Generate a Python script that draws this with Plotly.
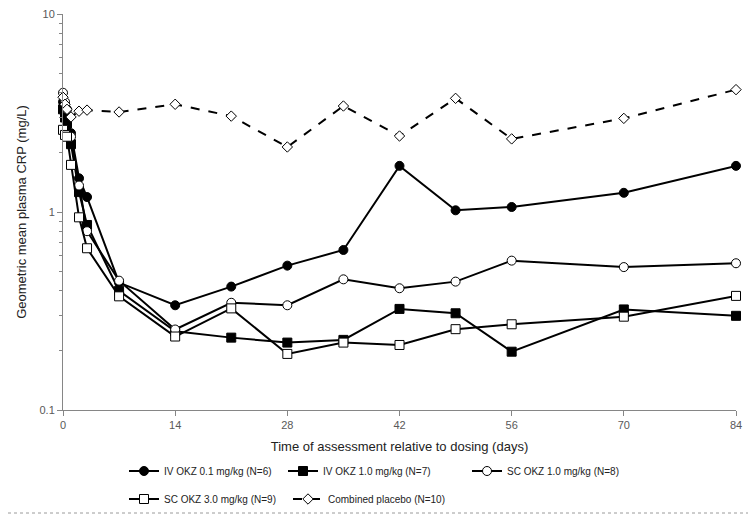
import plotly.graph_objects as go

days = [0, 0.25, 0.5, 1, 2, 3, 7, 14, 21, 28, 35, 42, 49, 56, 70, 84]

iv_01 = [3.6, 3.3, 3.0, 2.5, 1.48, 1.19, 0.44, 0.338, 0.42, 0.536, 0.643, 1.71, 1.02, 1.06, 1.25, 1.71]
iv_10 = [3.3, 3.0, 2.8, 2.2, 1.26, 0.86, 0.40, 0.25, 0.232, 0.219, 0.226, 0.324, 0.308, 0.197, 0.322, 0.299]
sc_10 = [4.0, 3.6, 3.3, 2.4, 1.36, 0.80, 0.45, 0.255, 0.348, 0.338, 0.457, 0.412, 0.445, 0.568, 0.527, 0.551]
sc_30 = [2.6, 2.45, 2.4, 1.73, 0.94, 0.656, 0.375, 0.235, 0.326, 0.192, 0.219, 0.213, 0.256, 0.271, 0.296, 0.377]
placebo = [3.8, 3.5, 3.3, 3.02, 3.23, 3.27, 3.2, 3.5, 3.05, 2.13, 3.43, 2.42, 3.75, 2.34, 2.97, 4.15]

names = ["IV OKZ 0.1 mg/kg (N=6)", "IV OKZ 1.0 mg/kg (N=7)", "SC OKZ 1.0 mg/kg (N=8)",
         "SC OKZ 3.0 mg/kg (N=9)", "Combined placebo (N=10)"]

x_ticks = [0, 14, 28, 42, 56, 70, 84]
y_ticks = [0.1, 1, 10]
y_tick_text = ["0.1", "1", "10"]

FONT = "Liberation Sans"
OFF = 8  # page body margin offset (screen px)
W, H = 756 - OFF, 516 - OFF
# target plot area on screen: x 63..736, y 14..410
ML, MT = 63 - OFF, 14 - OFF
MR = W - (736 - OFF)
MB = H - (410 - OFF)
PW, PH = W - ML - MR, H - MT - MB

def px_to_paper(px, py):
    # screen px -> paper coords
    return (px - 63) / PW, (410 - py) / PH

series = [
    (iv_01, dict(symbol="circle", size=9, color="black", line=dict(color="black", width=1)), "solid"),
    (iv_10, dict(symbol="square", size=9, color="black", line=dict(color="black", width=1)), "solid"),
    (sc_10, dict(symbol="circle", size=9, color="white", line=dict(color="black", width=1)), "solid"),
    (sc_30, dict(symbol="square", size=9, color="white", line=dict(color="black", width=1)), "solid"),
    (placebo, dict(symbol="diamond", size=8, color="white", line=dict(color="black", width=1)), "dash"),
]

# legend anchor positions in screen pixels
legend_pos = [(124, 471), (283, 471), (467, 471), (124, 499), (288, 499)]

fig = go.Figure()
layout_legends = {}
for i, ((vals, marker, dash), name) in enumerate(zip(series, names)):
    key = "legend" if i == 0 else f"legend{i+1}"
    fig.add_trace(go.Scatter(
        x=days, y=vals, name=name, mode="lines+markers",
        line=dict(color="black", width=2, dash=dash),
        marker=marker, cliponaxis=False, legend=key,
    ))
    lx, ly = px_to_paper(*legend_pos[i])
    layout_legends[key] = dict(
        x=lx, y=ly, xanchor="left", yanchor="middle", orientation="h",
        bgcolor="rgba(0,0,0,0)", borderwidth=0,
        font=dict(family=FONT, size=10, color="#222222"), itemwidth=30,
    )

minor_vals = [v * m for m in (0.1, 1) for v in range(2, 10)]
_, dot_y = px_to_paper(0, 513)

fig.update_layout(
    width=W, height=H,
    margin=dict(l=ML, r=MR, t=MT, b=MB, autoexpand=False),
    paper_bgcolor="white", plot_bgcolor="white",
    font=dict(family=FONT, size=11, color="#595959"),
    showlegend=True,
    xaxis=dict(
        range=[0, 84], tickvals=x_ticks, ticks="outside", ticklen=5, tickcolor="#868686",
        showline=True, linecolor="#868686", linewidth=1, showgrid=False, zeroline=False,
        automargin=False, ticklabeloverflow="allow",
        tickfont=dict(family=FONT, size=11, color="#595959"),
        title=dict(text="Time of assessment relative to dosing (days)",
                   font=dict(family=FONT, size=13, color="#222222"), standoff=11),
    ),
    yaxis=dict(
        type="log", range=[-1, 1], tickvals=y_ticks, ticktext=y_tick_text,
        ticks="outside", ticklen=5, tickcolor="#868686",
        minor=dict(tickvals=minor_vals, ticks="outside", ticklen=3, tickcolor="#868686"),
        showline=True, linecolor="#868686", linewidth=1, showgrid=False, zeroline=False,
        automargin=False, ticklabeloverflow="allow",
        tickfont=dict(family=FONT, size=11, color="#595959"),
        title=dict(text="Geometric mean plasma CRP (mg/L)",
                   font=dict(family=FONT, size=13, color="#222222"), standoff=9),
    ),
    shapes=[dict(type="line", xref="paper", yref="paper",
                 x0=-ML / PW, x1=(W - ML) / PW, y0=dot_y, y1=dot_y,
                 line=dict(color="#9a9a9a", width=1, dash="dot"))],
    **layout_legends,
)

fig.write_html("out.html")
